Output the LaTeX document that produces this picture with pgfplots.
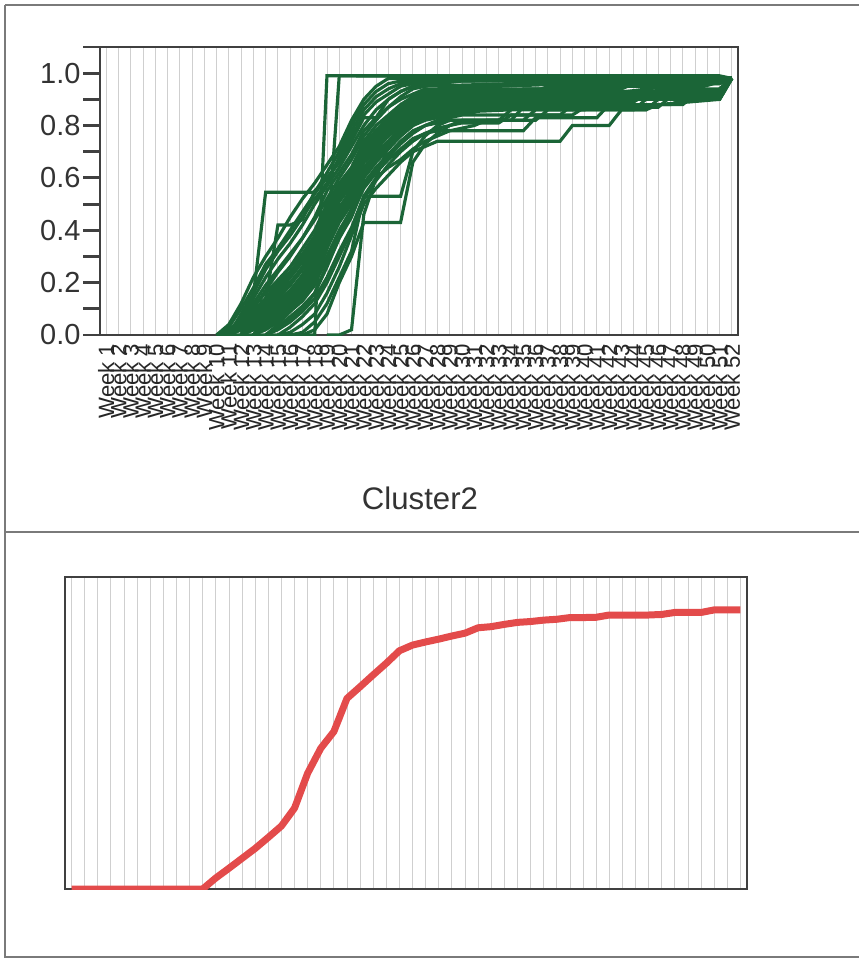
\documentclass[border=0pt]{standalone}
\usepackage{fontspec}
\setmainfont{Liberation Sans}
\usepackage{pgfplots}
\pgfplotsset{compat=1.18}
\definecolor{axc}{HTML}{404040}
\definecolor{gridc}{HTML}{CFCFCF}
\definecolor{labc}{HTML}{333333}
\definecolor{framec}{HTML}{7A7A7A}
\definecolor{clgreen}{HTML}{1B6537}
\definecolor{clred}{HTML}{E34B4B}

\pgfplotsset{
  panel/.style={
    scale only axis, clip=true,
    xmin=0.5, xmax=52.5, ymin=0, ymax=1.1,
    xtick={1,...,52},
    xmajorgrids, grid style={draw=gridc, line width=0.5pt},
    axis line style={draw=axc, line width=1.7pt},
    x tick style={draw=none},
  },
  gl/.style={draw=clgreen, line width=1.9pt, mark=none},
}

\begin{document}
\begin{tikzpicture}[x=0.6pt, y=-0.6pt]
\path[use as bounding box] (0,0) rectangle (859,958);
% page frame
\draw[framec, line width=0.8pt] (5,5) -- (859,5);
\draw[framec, line width=0.8pt] (5,5) -- (5,957) -- (859,957);
\draw[framec, line width=0.8pt] (5,532) -- (859,532);

% top panel: cluster members
\begin{axis}[panel,
  at={(60pt,-28.2pt)}, anchor=north west,
  width=382.8pt, height=172.8pt,
  ytick={0,0.2,...,1.0}, minor ytick={0.1,0.3,...,1.1},
  ytick pos=left, tick align=outside,
  major tick length=10pt, minor tick length=10pt,
  y tick style={draw=axc, line width=1.7pt},
  minor y tick style={draw=axc, line width=1.7pt},
  yticklabel style={font=\fontsize{17.4}{18}\selectfont, text=labc, inner sep=1.5pt},
  /pgf/number format/.cd, fixed, fixed zerofill, precision=1, assume math mode=true,
  /pgfplots/.cd,
  xticklabel={Week \pgfmathprintnumber[fixed, precision=0, fixed zerofill=false]{\tick}},
  xticklabel shift=-6pt,
  xticklabel style={rotate=90, anchor=east, font=\fontsize{13.3}{14}\selectfont, text=black!85, inner sep=1pt},
]
\addplot[gl] coordinates {(10,0)(11,.03)(12,.10)(13,.18)(14,.27)(15,.33)(16,.40)(17,.47)(18,.54)(19,.60)(20,.66)(21,.76)(22,.84)(23,.89)(24,.92)(25,.95)(26,.96)(27,.97)(28,.97)(29,.98)(52,.98)};
\addplot[gl] coordinates {(10,0)(11,.01)(12,.07)(13,.14)(14,.22)(15,.29)(16,.35)(17,.42)(18,.50)(19,.57)(20,.64)(21,.72)(22,.80)(23,.86)(24,.90)(25,.93)(26,.95)(27,.96)(28,.96)(29,.97)(35,.97)(36,.98)(52,.98)};
\addplot[gl] coordinates {(11,0)(12,.05)(13,.10)(14,.17)(15,.24)(16,.30)(17,.37)(18,.45)(19,.55)(20,.62)(21,.69)(22,.78)(23,.83)(24,.87)(25,.90)(26,.92)(27,.94)(28,.94)(29,.95)(33,.95)(34,.97)(52,.98)};
\addplot[gl] coordinates {(11,0)(12,.03)(13,.08)(14,.14)(15,.20)(16,.26)(17,.33)(18,.40)(19,.50)(20,.58)(21,.64)(22,.74)(23,.80)(24,.84)(25,.88)(26,.91)(27,.93)(38,.94)(39,.96)(46,.96)(47,.98)(52,.98)};
\addplot[gl] coordinates {(11,0)(12,.02)(13,.06)(14,.11)(15,.16)(16,.22)(17,.28)(18,.36)(19,.46)(20,.55)(21,.60)(22,.71)(23,.76)(24,.81)(25,.85)(26,.88)(27,.90)(28,.91)(29,.92)(31,.93)(36,.93)(37,.95)(44,.95)(45,.97)(52,.98)};
\addplot[gl] coordinates {(12,0)(13,.04)(14,.09)(15,.14)(16,.19)(17,.25)(18,.32)(19,.44)(20,.53)(21,.58)(22,.70)(23,.74)(24,.78)(25,.83)(26,.86)(27,.88)(28,.89)(29,.90)(30,.91)(32,.91)(33,.93)(41,.93)(42,.95)(49,.95)(50,.98)(52,.98)};
\addplot[gl] coordinates {(12,0)(13,.03)(14,.07)(15,.11)(16,.15)(17,.20)(18,.27)(19,.40)(20,.49)(21,.55)(22,.67)(23,.71)(24,.76)(25,.80)(26,.84)(27,.86)(28,.87)(29,.88)(31,.89)(32,.91)(39,.91)(40,.93)(47,.93)(48,.96)(51,.96)(52,.98)};
\addplot[gl] coordinates {(12,0)(13,.02)(14,.05)(15,.09)(16,.13)(17,.18)(18,.24)(19,.36)(20,.46)(21,.52)(22,.64)(23,.69)(24,.74)(25,.79)(26,.83)(27,.85)(28,.86)(29,.87)(33,.88)(34,.90)(42,.90)(43,.93)(51,.93)(52,.98)};
\addplot[gl] coordinates {(13,0)(14,.03)(15,.07)(16,.11)(17,.15)(18,.21)(19,.33)(20,.43)(21,.50)(22,.61)(23,.67)(24,.72)(25,.77)(26,.81)(27,.83)(28,.84)(29,.85)(34,.86)(35,.89)(44,.89)(45,.92)(51,.92)(52,.98)};
\addplot[gl] coordinates {(14,0)(15,.02)(16,.05)(17,.09)(18,.14)(19,.22)(20,.32)(21,.41)(22,.53)(23,.60)(24,.64)(25,.67)(26,.71)(27,.74)(28,.76)(29,.78)(30,.79)(31,.80)(32,.82)(36,.82)(37,.86)(45,.86)(46,.90)(51,.90)(52,.98)};
\addplot[gl] coordinates {(15,0)(16,.01)(17,.04)(18,.08)(19,.16)(20,.26)(21,.38)(22,.50)(23,.56)(24,.61)(25,.66)(26,.70)(27,.72)(28,.74)(38,.74)(39,.80)(42,.80)(43,.86)(45,.86)(46,.88)(51,.90)(52,.98)};
\addplot[gl] coordinates {(14,0)(15,.03)(16,.07)(17,.11)(18,.16)(19,.26)(20,.37)(21,.46)(22,.56)(23,.62)(24,.67)(25,.71)(26,.75)(27,.77)(28,.78)(35,.78)(36,.83)(41,.83)(42,.88)(48,.88)(49,.92)(51,.92)(52,.98)};
\addplot[gl] coordinates {(10,0)(18,0)(19,.99)(51,.99)(52,.98)};
\addplot[gl] coordinates {(12,0)(13,.15)(14,.545)(18,.545)(19,.62)(20,.70)(21,.80)(22,.88)(23,.93)(24,.96)(25,.97)(52,.98)};
\addplot[gl] coordinates {(19,0)(20,0)(21,.02)(22,.46)(23,.60)(24,.72)(25,.80)(26,.85)(27,.88)(28,.89)(29,.90)(37,.90)(38,.93)(52,.98)};
\addplot[gl] coordinates {(17,0)(18,.02)(19,.08)(20,.20)(21,.30)(22,.43)(25,.43)(26,.66)(27,.73)(28,.77)(29,.80)(30,.82)(34,.82)(35,.87)(43,.87)(44,.91)(52,.98)};
\addplot[gl] coordinates {(13,0)(14,.04)(15,.08)(16,.12)(17,.16)(18,.20)(19,.33)(20,.99)(52,.98)};
\addplot[gl] coordinates {(11,0)(12,.05)(13,.13)(14,.13)(15,.42)(16,.42)(17,.44)(18,.55)(19,.60)(20,.66)(21,.74)(22,.83)(23,.83)(24,.90)(25,.93)(26,.95)(52,.98)};
\addplot[gl] coordinates {(16,0)(17,.01)(18,.05)(19,.12)(20,.22)(21,.32)(22,.53)(25,.53)(26,.70)(27,.76)(28,.80)(29,.82)(33,.82)(34,.86)(40,.86)(41,.89)(52,.98)};
\addplot[gl] coordinates {(11,0)(12,.04)(13,.08)(14,.12)(15,.16)(16,.20)(17,.25)(18,.31)(19,.42)(20,.52)(21,.58)(22,.69)(23,.74)(24,.79)(25,.84)(26,.88)(27,.90)(28,.91)(29,.92)(30,.93)(37,.93)(38,.95)(51,.96)(52,.98)};
\addplot[gl] coordinates {(11,0)(12,.06)(13,.11)(14,.16)(15,.21)(16,.26)(17,.31)(18,.38)(19,.47)(20,.56)(21,.63)(22,.72)(23,.78)(24,.83)(25,.87)(26,.90)(27,.92)(28,.93)(29,.94)(40,.94)(41,.96)(52,.98)};
\addplot[gl] coordinates {(12,0)(13,.05)(14,.10)(15,.15)(16,.20)(17,.26)(18,.34)(19,.45)(20,.53)(21,.60)(22,.70)(23,.75)(24,.80)(25,.84)(26,.87)(27,.89)(28,.90)(29,.91)(34,.91)(35,.94)(43,.94)(44,.96)(52,.98)};
\addplot[gl] coordinates {(12,0)(13,.02)(14,.06)(15,.10)(16,.14)(17,.19)(18,.26)(19,.38)(20,.47)(21,.54)(22,.66)(23,.70)(24,.74)(25,.78)(26,.82)(27,.85)(28,.86)(29,.87)(31,.87)(32,.89)(38,.89)(39,.91)(45,.91)(46,.94)(51,.94)(52,.98)};
\addplot[gl] coordinates {(13,0)(14,.04)(15,.08)(16,.12)(17,.17)(18,.23)(19,.34)(20,.44)(21,.51)(22,.63)(23,.68)(24,.73)(25,.78)(26,.82)(27,.84)(28,.85)(29,.86)(30,.87)(36,.87)(37,.90)(42,.90)(43,.92)(48,.92)(49,.95)(52,.98)};
\addplot[gl] coordinates {(13,0)(14,.02)(15,.05)(16,.09)(17,.13)(18,.19)(19,.30)(20,.40)(21,.48)(22,.60)(23,.66)(24,.71)(25,.76)(26,.80)(27,.82)(28,.83)(29,.84)(31,.85)(32,.87)(40,.87)(41,.90)(47,.90)(48,.93)(51,.93)(52,.98)};
\addplot[gl] coordinates {(11,0)(12,.02)(13,.05)(14,.09)(15,.13)(16,.17)(17,.22)(18,.29)(19,.42)(20,.51)(21,.57)(22,.68)(23,.73)(24,.77)(25,.82)(26,.86)(27,.88)(28,.89)(29,.90)(33,.90)(34,.92)(39,.92)(40,.95)(52,.98)};
\addplot[gl] coordinates {(10,0)(11,.02)(12,.06)(13,.12)(14,.19)(15,.25)(16,.31)(17,.37)(18,.44)(19,.52)(20,.60)(21,.67)(22,.76)(23,.82)(24,.87)(25,.91)(26,.94)(27,.95)(28,.96)(30,.97)(52,.98)};
\addplot[gl] coordinates {(14,0)(15,.04)(16,.09)(17,.14)(18,.20)(19,.29)(20,.39)(21,.47)(22,.58)(23,.64)(24,.69)(25,.74)(26,.78)(27,.80)(28,.81)(29,.82)(35,.82)(36,.86)(44,.86)(45,.90)(50,.90)(51,.92)(52,.98)};
\addplot[gl] coordinates {(12,0)(13,.04)(14,.08)(15,.13)(16,.17)(17,.23)(18,.30)(19,.43)(20,.52)(21,.57)(22,.68)(23,.73)(24,.77)(25,.82)(26,.85)(27,.87)(28,.88)(29,.89)(31,.90)(36,.90)(37,.92)(46,.92)(47,.95)(52,.98)};
\addplot[gl] coordinates {(11,0)(12,.04)(13,.09)(14,.14)(15,.19)(16,.24)(17,.30)(18,.37)(19,.48)(20,.57)(21,.62)(22,.73)(23,.78)(24,.82)(25,.86)(26,.89)(27,.91)(28,.92)(29,.93)(32,.93)(33,.95)(52,.98)};
\addplot[gl] coordinates {(13,0)(14,.05)(15,.10)(16,.14)(17,.19)(18,.25)(19,.37)(20,.46)(21,.53)(22,.64)(23,.69)(24,.74)(25,.79)(26,.83)(27,.85)(28,.86)(29,.87)(30,.88)(37,.88)(38,.90)(48,.90)(49,.94)(52,.98)};
\addplot[gl] coordinates {(12,0)(13,.06)(14,.12)(15,.18)(16,.24)(17,.30)(18,.36)(19,.46)(20,.54)(21,.61)(22,.71)(23,.77)(24,.81)(25,.85)(26,.88)(27,.90)(28,.91)(29,.92)(41,.92)(42,.95)(52,.98)};
\addplot[gl] coordinates {(15,0)(16,.03)(17,.07)(18,.12)(19,.20)(20,.30)(21,.40)(22,.52)(23,.59)(24,.65)(25,.70)(26,.74)(27,.77)(28,.79)(29,.80)(30,.81)(33,.81)(34,.84)(39,.84)(40,.87)(46,.87)(47,.91)(51,.91)(52,.98)};
\addplot[gl] coordinates {(10,0)(11,.04)(12,.12)(13,.22)(14,.30)(15,.37)(16,.45)(17,.52)(18,.58)(19,.65)(20,.72)(21,.82)(22,.90)(23,.95)(24,.98)(52,.98)};
\addplot[gl] coordinates {(11,0)(12,.08)(13,.16)(14,.25)(15,.32)(16,.38)(17,.45)(18,.52)(19,.58)(20,.68)(21,.78)(22,.86)(23,.91)(24,.94)(25,.96)(26,.97)(52,.98)};
\addplot[gl] coordinates {(12,0)(13,.03)(14,.08)(15,.12)(16,.17)(17,.22)(18,.28)(19,.39)(20,.48)(21,.56)(22,.66)(23,.72)(24,.77)(25,.81)(26,.85)(27,.87)(28,.88)(29,.89)(35,.89)(36,.91)(45,.91)(46,.93)(52,.98)};
\addplot[gl] coordinates {(13,0)(14,.03)(15,.06)(16,.10)(17,.15)(18,.22)(19,.35)(20,.45)(21,.52)(22,.62)(23,.68)(24,.72)(25,.76)(26,.80)(27,.83)(28,.84)(29,.86)(32,.86)(33,.88)(42,.88)(43,.91)(50,.91)(51,.94)(52,.98)};
\addplot[gl] coordinates {(11,0)(12,.03)(13,.07)(14,.13)(15,.18)(16,.23)(17,.29)(18,.35)(19,.44)(20,.54)(21,.61)(22,.71)(23,.77)(24,.82)(25,.86)(26,.89)(27,.91)(28,.92)(29,.93)(36,.93)(37,.94)(52,.98)};
\addplot[gl] coordinates {(14,0)(15,.03)(16,.06)(17,.10)(18,.16)(19,.27)(20,.37)(21,.45)(22,.57)(23,.63)(24,.68)(25,.73)(26,.77)(27,.80)(28,.82)(29,.83)(30,.84)(38,.84)(39,.88)(47,.88)(48,.90)(51,.90)(52,.98)};
\addplot[gl] coordinates {(12,0)(13,.05)(14,.11)(15,.17)(16,.22)(17,.28)(18,.33)(19,.44)(20,.55)(21,.62)(22,.72)(23,.78)(24,.83)(25,.87)(26,.90)(27,.92)(28,.93)(29,.94)(30,.95)(52,.98)};
\addplot[gl] coordinates {(13,0)(14,.06)(15,.11)(16,.16)(17,.21)(18,.27)(19,.38)(20,.47)(21,.55)(22,.67)(23,.72)(24,.76)(25,.80)(26,.84)(27,.86)(28,.87)(29,.88)(39,.88)(40,.91)(52,.98)};
\end{axis}
\node[font=\fontsize{18.7}{20}\selectfont, text=labc] at (420,498) {Cluster2};

% bottom panel: cluster mean
\begin{axis}[panel,
  at={(39pt,-346.2pt)}, anchor=north west,
  width=409.2pt, height=187.2pt,
  ytick=\empty, xticklabels={},
]
\addplot[draw=clred, line width=4.2pt, line join=round, mark=none] coordinates {
(1,0)(2,0)(3,0)(4,0)(5,0)(6,0)(7,0)(8,0)(9,0)(10,0)(11,0)
(12,.039)(13,.073)(14,.108)(15,.143)(16,.182)(17,.222)(18,.285)(19,.408)(20,.496)
(21,.555)(22,.672)(23,.713)(24,.755)(25,.796)(26,.840)(27,.860)(28,.871)(29,.881)(30,.892)
(31,.902)(32,.921)(33,.925)(34,.933)(35,.940)(36,.943)(37,.948)(38,.951)(39,.957)(40,.957)
(41,.958)(42,.966)(43,.966)(44,.966)(45,.966)(46,.968)(47,.975)(48,.975)(49,.975)(50,.984)
(51,.984)(52,.984)};
\end{axis}
\end{tikzpicture}
\end{document}
